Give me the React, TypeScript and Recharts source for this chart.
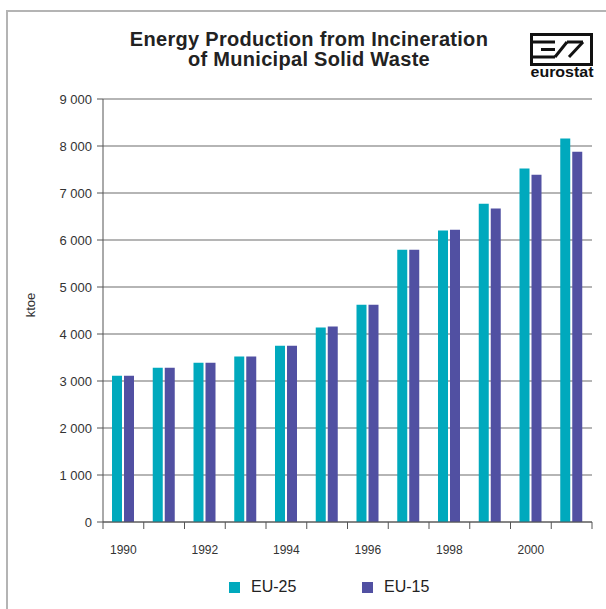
import { BarChart, Bar, XAxis, YAxis, CartesianGrid } from 'recharts'

const years = ['1990', '1991', '1992', '1993', '1994', '1995', '1996', '1997', '1998', '1999', '2000', '2001']
const eu25 = [3110, 3280, 3390, 3520, 3750, 4140, 4620, 5790, 6200, 6770, 7520, 8160]
const eu15 = [3110, 3280, 3390, 3520, 3750, 4160, 4620, 5790, 6220, 6670, 7390, 7880]
const yTicks = [0, 1000, 2000, 3000, 4000, 5000, 6000, 7000, 8000, 9000]
const labelledYears = ['1990', '1992', '1994', '1996', '1998', '2000']
const titleLines = ['Energy Production from Incineration', 'of Municipal Solid Waste']

const series = [
  { key: 'eu25', name: 'EU-25', color: '#00a9bd' },
  { key: 'eu15', name: 'EU-15', color: '#5150a2' },
]

const data = years.map((year, i) => ({ year, eu25: eu25[i], eu15: eu15[i] }))

const W = 606
const H = 609
const margin = { top: 99, right: 14, left: 43, bottom: 57 }
const Y_AXIS_W = 60
const band = (W - margin.left - Y_AXIS_W - margin.right) / years.length
const font = '"Liberation Sans", Arial, sans-serif'

const fmt = (v: number) => (v === 0 ? '0' : `${Math.floor(v / 1000)} 000`)

function YearTick({ x, y, payload, index }: any) {
  const half = band / 2
  return (
    <g>
      <line x1={x - half} y1={y} x2={x - half} y2={y + 7} stroke="#555" />
      {index === years.length - 1 && <line x1={x + half} y1={y} x2={x + half} y2={y + 7} stroke="#555" />}
      {labelledYears.includes(payload.value) && (
        <text x={x} y={y + 32} textAnchor="middle" fontSize={12} fill="#333" fontFamily={font}>
          {payload.value}
        </text>
      )}
    </g>
  )
}

function Logo() {
  return (
    <svg width={70} height={50} style={{ position: 'absolute', left: 527, top: 31 }}>
      <rect x={4.5} y={3.5} width={60} height={30} fill="#fff" stroke="#111" strokeWidth={3} />
      <g stroke="#111" strokeWidth={3} fill="none">
        <line x1={6} y1={11} x2={28} y2={11} />
        <line x1={14} y1={18.5} x2={28} y2={18.5} />
        <line x1={6} y1={26} x2={28} y2={26} />
        <line x1={28} y1={26} x2={40} y2={11} />
        <line x1={40} y1={11} x2={56} y2={11} />
        <line x1={42} y1={26} x2={56} y2={11} />
      </g>
      <text x={35} y={46} textAnchor="middle" fontSize={15} fontWeight="bold" fontFamily={font} fill="#111" textLength={63} lengthAdjust="spacingAndGlyphs">
        eurostat
      </text>
    </svg>
  )
}

export default function App() {
  return (
    <div style={{ position: 'relative', width: W, height: H, background: '#fff', fontFamily: font, overflow: 'hidden' }}>
      <style>{`body{margin:0}`}</style>
      <div style={{ position: 'absolute', left: 6, top: 10, width: 610, height: 610, borderLeft: '2px solid #b4b4b4', borderTop: '2px solid #b4b4b4' }} />
      <div style={{ position: 'absolute', left: 0, top: 29, width: 618, textAlign: 'center', fontSize: 20, lineHeight: '20px', letterSpacing: 0.3, fontWeight: 'bold', color: '#222' }}>
        {titleLines.map(t => (
          <div key={t}>{t}</div>
        ))}
      </div>
      <Logo />
      <div style={{ position: 'absolute', left: 30, top: 305, transform: 'translate(-50%, -50%) rotate(-90deg)', fontSize: 13, color: '#333', whiteSpace: 'nowrap' }}>
        ktoe
      </div>
      <div style={{ position: 'absolute', left: 0, top: 0 }}>
        <BarChart width={W} height={H} data={data} margin={margin} barSize={10} barGap={2}>
          <CartesianGrid vertical={false} stroke="#9c9c9c" strokeWidth={1.5} />
          <XAxis
            dataKey="year"
            height={30}
            interval={0}
            tickSize={0}
            tickMargin={0}
            axisLine={{ stroke: '#555' }}
            tickLine={false}
            tick={<YearTick />}
          />
          <YAxis
            domain={[0, 9000]}
            ticks={yTicks}
            width={Y_AXIS_W}
            tickFormatter={fmt}
            tickSize={6}
            tickMargin={5}
            axisLine={{ stroke: '#555' }}
            tickLine={{ stroke: '#555' }}
            tick={{ fontSize: 13, fill: '#333', fontFamily: font }}
          />
          {series.map(s => (
            <Bar key={s.key} dataKey={s.key} name={s.name} fill={s.color} isAnimationActive={false} />
          ))}
        </BarChart>
      </div>
      {series.map((s, i) => (
        <div key={s.key} style={{ position: 'absolute', left: 229 + i * 133, top: 578, display: 'flex', alignItems: 'center', fontSize: 16, color: '#222' }}>
          <span style={{ width: 11, height: 11, background: s.color, marginRight: 11, display: 'inline-block' }} />
          {s.name}
        </div>
      ))}
    </div>
  )
}
